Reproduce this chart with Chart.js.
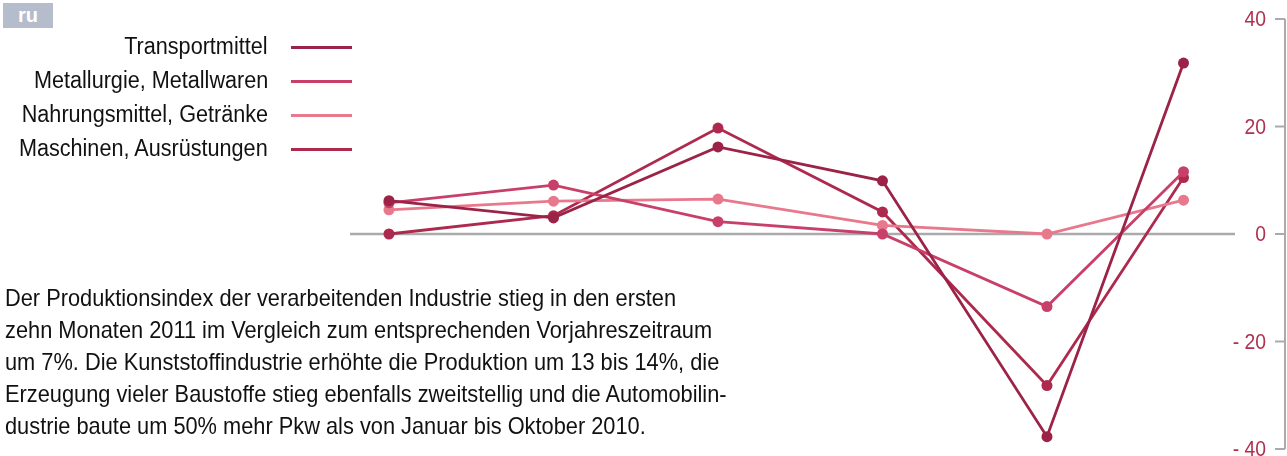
<!DOCTYPE html>
<html>
<head>
<meta charset="utf-8">
<script src="https://cdn.jsdelivr.net/npm/chart.js@4/dist/chart.umd.min.js"></script>
<style>
  html, body { margin: 0; padding: 0; background: #fff; }
  body { width: 1287px; height: 456px; position: relative; overflow: hidden;
         font-family: 'Liberation Sans', Arial, sans-serif; }
  #wrap { position: absolute; left: 0; top: 0; width: 1287px; height: 456px; }
  .badge { position: absolute; left: 3px; top: 3px; width: 50px; height: 25px; background: #b5bccb;
           color: #fff; font-weight: bold; font-size: 20px;
           line-height: 25px; text-align: center; }
  .legend { position: absolute; left: 0; top: 30px; width: 352px; }
  .legend-item { position: relative; height: 34px; }
  .legend-item span { position: absolute; right: 84px; top: 3px; font-size: 23px; color: #111; white-space: nowrap;
                      transform: scaleX(0.94); transform-origin: right center; }
  .legend-item i { position: absolute; left: 291px; width: 61px; height: 3px; top: 16px; }
  .text { position: absolute; left: 5px; top: 282px; font-size: 24px; line-height: 32px; color: #111; white-space: nowrap;
          transform: scaleX(0.908); transform-origin: left top; }
</style>
</head>
<body>
<div id="wrap"><canvas id="chart" width="1287" height="456"></canvas></div>
<div class="badge">ru</div>
<div class="legend" id="legend"></div>
<div class="text">
Der Produktionsindex der verarbeitenden Industrie stieg in den ersten<br>
zehn Monaten 2011 im Vergleich zum entsprechenden Vorjahreszeitraum<br>
um 7%. Die Kunststoffindustrie erhöhte die Produktion um 13 bis 14%, die<br>
Erzeugung vieler Baustoffe stieg ebenfalls zweitstellig und die Automobilin-<br>
dustrie baute um 50% mehr Pkw als von Januar bis Oktober 2010.
</div>
<script>
// period positions along the x axis (last period sits closer)
const periods      = [0, 1, 2, 3, 4, 4.83];
const transport    = [6.2, 3.0, 16.2, 9.9, -37.7, 31.8];
const metallurgie  = [5.8, 9.1, 2.3, 0.0, -13.5, 11.6];
const nahrung      = [4.5, 6.1, 6.5, 1.6, 0.0, 6.3];
const maschinen    = [0.0, 3.4, 19.7, 4.1, -28.2, 10.5];

const yTicks = [40, 20, 0, -20, -40];
const yTickLabels = ['40', '20', '0', '- 20', '- 40'];

const SERIES = [
  { label: 'Transportmittel',            data: transport,   color: '#9b2347' },
  { label: 'Metallurgie, Metallwaren',   data: metallurgie, color: '#c8406a' },
  { label: 'Nahrungsmittel, Getränke',   data: nahrung,     color: '#e8788c' },
  { label: 'Maschinen, Ausrüstungen',    data: maschinen,   color: '#ad2a4e' },
];

document.getElementById('legend').innerHTML = SERIES.map(s => `
  <div class="legend-item"><span>${s.label}</span><i style="background:${s.color}"></i></div>
`).join('');

// right axis: line at far right, ticks pointing left, labels left of ticks
const rightAxis = {
  id: 'rightAxis',
  afterDraw(chart) {
    const { ctx } = chart;
    const y = chart.scales.y;
    const axisX = 1285;
    ctx.save();
    ctx.strokeStyle = '#aaaaad';
    ctx.lineWidth = 2;
    ctx.beginPath();
    ctx.moveTo(axisX, y.getPixelForValue(40));
    ctx.lineTo(axisX, y.getPixelForValue(-40));
    ctx.stroke();
    yTicks.forEach(v => {
      const py = y.getPixelForValue(v);
      ctx.beginPath();
      ctx.moveTo(1275, py);
      ctx.lineTo(axisX, py);
      ctx.stroke();
    });
    // condensed labels
    ctx.fillStyle = '#b0304f';
    ctx.font = '22px "Liberation Sans", sans-serif';
    ctx.textAlign = 'right';
    ctx.textBaseline = 'middle';
    yTicks.forEach((v, i) => {
      const py = y.getPixelForValue(v);
      ctx.save();
      ctx.translate(1266, py + 1);
      ctx.scale(0.88, 1);
      ctx.fillText(yTickLabels[i], 0, 0);
      ctx.restore();
    });
    ctx.restore();
  },
  beforeDatasetsDraw(chart) {
    const { ctx, chartArea } = chart;
    const py = chart.scales.y.getPixelForValue(0);
    ctx.save();
    ctx.strokeStyle = '#aaaaad';
    ctx.lineWidth = 2.5;
    ctx.beginPath();
    ctx.moveTo(chartArea.left, py);
    ctx.lineTo(chartArea.right, py);
    ctx.stroke();
    ctx.restore();
  }
};

new Chart(document.getElementById('chart').getContext('2d'), {
  type: 'line',
  data: {
    datasets: SERIES.map(s => ({
      label: s.label,
      data: s.data.map((v, i) => ({ x: periods[i], y: v })),
      borderColor: s.color,
      backgroundColor: s.color,
      pointBackgroundColor: s.color,
      pointBorderWidth: 0,
      pointRadius: 5.5,
      borderWidth: 2.8,
      tension: 0,
    })),
  },
  options: {
    responsive: false,
    animation: false,
    layout: { padding: { left: 350, right: 52, top: 19, bottom: 7 } },
    plugins: { legend: { display: false }, tooltip: { enabled: false } },
    scales: {
      x: { type: 'linear', min: -0.237, max: 5.143, display: false },
      y: { min: -40, max: 40, display: false },
    },
  },
  plugins: [rightAxis],
});
</script>
</body>
</html>
